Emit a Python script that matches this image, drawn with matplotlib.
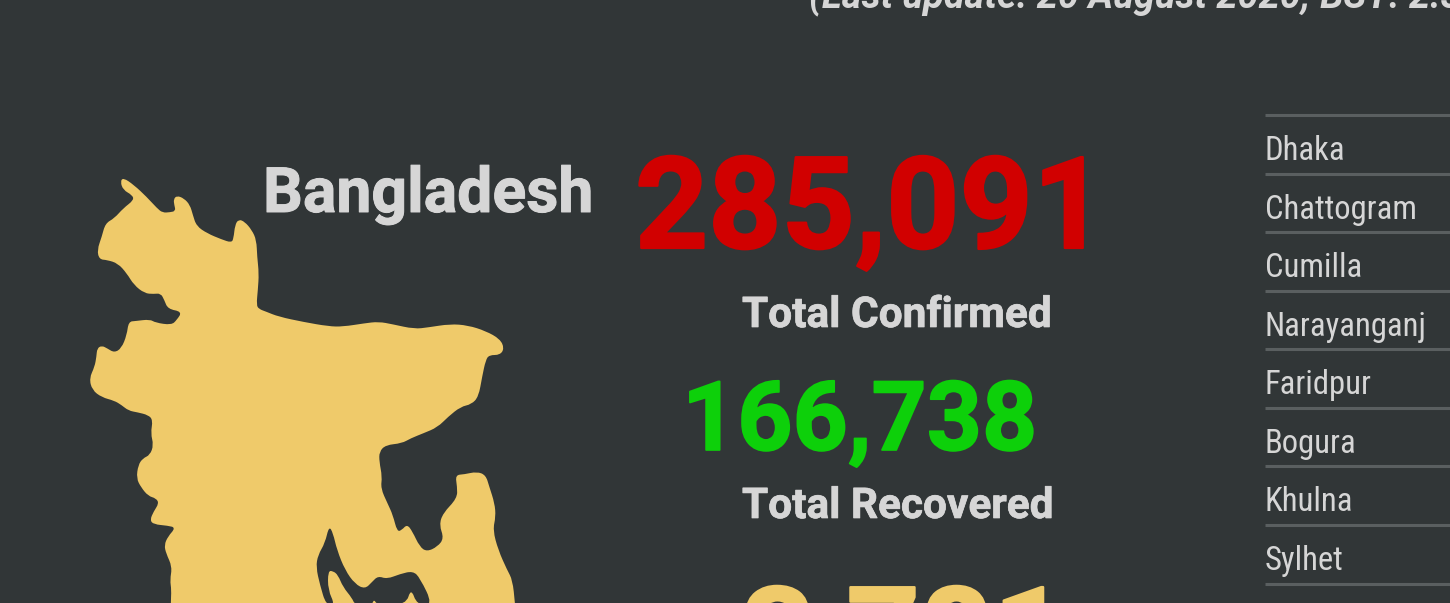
import matplotlib
matplotlib.use('Agg')
import matplotlib.pyplot as plt
import matplotlib.patheffects as pe
from matplotlib.patches import PathPatch
from matplotlib.path import Path
import numpy as np

BG = '#313637'
TEXT = '#d6d6d6'
GOLD = '#efca6a'
RED = '#d10000'
GREEN = '#0dd00a'
RULE = '#5a5f60'

country = 'Bangladesh'
update_text = '(Last update: 20 August 2020; BST: 2:30 PM)'
total_values = ['285,091', '166,738', '3,781']
total_labels = ['Total Confirmed', 'Total Recovered']
divisions = ['Dhaka', 'Chattogram', 'Cumilla', 'Narayanganj', 'Faridpur',
             'Bogura', 'Khulna', 'Sylhet']

# map outline, trace units (x / 2.8, y / 3 + 140 gives pixels)
map_outline = [
    (345, 113), (375, 135), (410, 170), (440, 205), (455, 218), (475, 217), (492, 213), (488, 195),
    (486, 178), (495, 167), (515, 175), (532, 195), (540, 225), (550, 258), (580, 280), (620, 298),
    (648, 308), (654, 295), (658, 255), (668, 238), (685, 245), (705, 270), (718, 300), (720, 350),
    (725, 400), (722, 450), (718, 495), (725, 507), (745, 515), (780, 530), (850, 546), (920, 559),
    (960, 560), (1020, 550), (1060, 545), (1100, 553), (1160, 567), (1200, 562), (1260, 552),
    (1310, 556), (1360, 573), (1400, 597), (1412, 625), (1400, 645), (1370, 645), (1360, 660),
    (1350, 710), (1340, 770), (1320, 793), (1290, 800), (1255, 830), (1225, 862), (1185, 880),
    (1150, 895), (1125, 910), (1080, 915), (1062, 935), (1062, 965), (1070, 1010), (1066, 1045),
    (1085, 1090), (1100, 1125), (1112, 1175), (1125, 1170), (1140, 1153), (1155, 1175), (1175, 1220),
    (1195, 1235), (1225, 1220), (1243, 1195), (1230, 1155), (1240, 1120), (1280, 1075), (1280, 1040),
    (1275, 1005), (1300, 1003), (1335, 995), (1360, 1005), (1370, 1040), (1385, 1090), (1388, 1130),
    (1380, 1170), (1395, 1230), (1420, 1290), (1435, 1320), (1442, 1389), (1450, 1500), (478, 1500),
    (478, 1389), (480, 1350), (476, 1320), (482, 1280), (465, 1240), (460, 1215), (470, 1190),
    (492, 1163), (470, 1157), (430, 1153), (420, 1140), (430, 1115), (445, 1090), (437, 1075),
    (415, 1068), (395, 1042), (382, 1015), (387, 975), (400, 955), (420, 945), (430, 915), (422, 880),
    (428, 840), (415, 825), (385, 817), (360, 812), (340, 795), (320, 782), (285, 772), (258, 750),
    (250, 715), (265, 680), (270, 650), (272, 625), (285, 617), (300, 625), (320, 638), (340, 625),
    (355, 585), (360, 545), (380, 543), (420, 538), (435, 548), (480, 555), (495, 540), (510, 515),
    (470, 507), (460, 480), (450, 460), (430, 462), (405, 460), (375, 435), (355, 400), (330, 370),
    (300, 360), (278, 358), (272, 330), (285, 290), (295, 250), (320, 235), (345, 205), (375, 180),
    (370, 165), (345, 150), (337, 125),
]

# dark river channel in the south, pixels
channel_outline = [
    (329, 526), (333, 533), (337, 550), (345, 570), (355, 584), (365, 589), (372, 582), (378, 576),
    (387, 579), (400, 574), (413, 571), (420, 578), (433, 605), (417, 605), (411, 588), (406, 605),
    (377, 605), (374, 599), (372, 605), (355, 605), (352, 598), (343, 587), (338, 575), (333, 571),
    (328, 571), (328, 590), (335, 605), (326, 605), (320, 585), (316, 567), (318, 555), (325, 543),
]

row_tops = [115, 174, 232, 291, 349, 408, 466, 525, 584]


def smooth_closed_path(pts):
    # quadratic segments through the midpoints, gives the rounded outline
    pts = np.asarray(pts, dtype=float)
    mids = (pts + np.roll(pts, -1, axis=0)) / 2
    verts = [mids[-1]]
    codes = [Path.MOVETO]
    for p, m in zip(pts, mids):
        verts += [p, m]
        codes += [Path.CURVE3, Path.CURVE3]
    return Path(verts, codes)


def heavy_text(ax, x, y, s, color, size, stroke):
    # the reference's bold is a bit fatter than the installed one
    t = ax.text(x, y, s, color=color, fontsize=size, fontweight='bold', family='Roboto')
    t.set_path_effects([pe.withStroke(linewidth=stroke, foreground=color)])
    return t


map_px = [(x / 2.8, y / 3 + 140) for x, y in map_outline]

fig = plt.figure(figsize=(14.5, 6.03), dpi=100, facecolor=BG)
ax = fig.add_axes([0, 0, 1, 1])
ax.set_xlim(0, 1450)
ax.set_ylim(603, 0)
ax.axis('off')

ax.add_patch(PathPatch(smooth_closed_path(map_px), facecolor=GOLD, edgecolor='none'))
ax.add_patch(PathPatch(smooth_closed_path(channel_outline), facecolor=BG, edgecolor='none'))

heavy_text(ax, 263, 212, country, TEXT, 45, 0.7)
ax.text(809, 8, update_text, color=TEXT, fontsize=27.4, fontweight='bold', style='italic', family='Roboto')

heavy_text(ax, 635, 248, total_values[0], RED, 92, 1.6)
heavy_text(ax, 742, 327, total_labels[0], TEXT, 30.5, 0.5)
heavy_text(ax, 682, 450, total_values[1], GREEN, 69.4, 1.2)
heavy_text(ax, 742, 518, total_labels[1], TEXT, 30.5, 0.5)
heavy_text(ax, 742, 678, total_values[2], GOLD, 92, 1.6)

for y in row_tops:
    ax.plot([1265, 1450], [y, y], color=RULE, lw=2.2, solid_capstyle='butt')
for name, y in zip(divisions, row_tops):
    ax.text(1265, y + 45, name, color=TEXT, fontsize=23.5, family='Roboto Condensed')

fig.savefig('out.png', dpi=100, facecolor=BG)
